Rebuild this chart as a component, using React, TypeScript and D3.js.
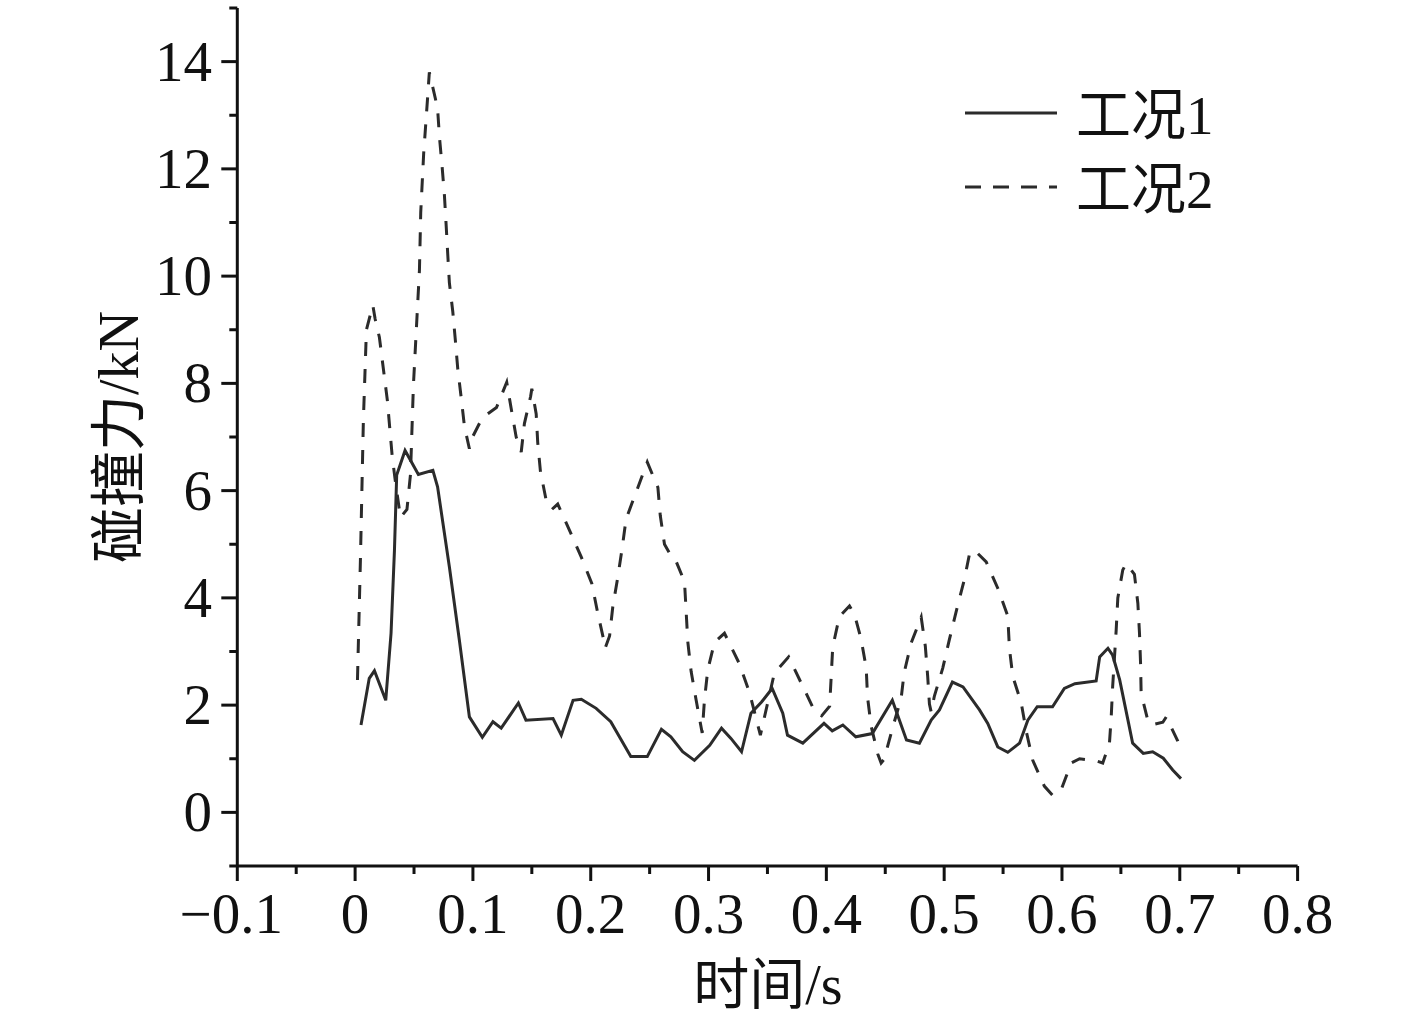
import React from "react";
import * as d3 from "d3";

const t1 = [0.005,0.012,0.0164,0.026,0.0305,0.0334,0.0353,0.0424,0.0537,0.066,0.070,0.080,0.0885,0.097,0.108,0.117,0.124,0.1386,0.145,0.168,0.175,0.185,0.192,0.2046,0.217,0.234,0.248,0.260,0.268,0.278,0.288,0.301,0.311,0.319,0.328,0.336,0.345,0.354,0.363,0.367,0.380,0.398,0.405,0.414,0.425,0.439,0.456,0.468,0.479,0.489,0.496,0.507,0.516,0.530,0.537,0.5455,0.554,0.564,0.571,0.579,0.592,0.602,0.611,0.629,0.632,0.639,0.643,0.649,0.656,0.660,0.669,0.677,0.686,0.694,0.701];
const f1 = [1.63,2.50,2.64,2.09,3.34,4.89,6.29,6.75,6.30,6.38,6.07,4.58,3.21,1.78,1.40,1.69,1.57,2.04,1.72,1.75,1.44,2.09,2.11,1.94,1.69,1.04,1.04,1.55,1.41,1.13,0.97,1.25,1.57,1.38,1.13,1.85,2.06,2.31,1.85,1.44,1.29,1.66,1.52,1.63,1.41,1.47,2.09,1.35,1.29,1.72,1.91,2.43,2.34,1.91,1.66,1.22,1.12,1.29,1.72,1.97,1.97,2.31,2.40,2.45,2.90,3.06,2.93,2.47,1.72,1.29,1.10,1.13,1.01,0.79,0.63];

const t2 = [0.002,0.0045,0.007,0.0096,0.015,0.017,0.0206,0.0274,0.0314,0.034,0.0385,0.044,0.047,0.0495,0.052,0.0546,0.0557,0.0582,0.0616,0.063,0.0645,0.070,0.0716,0.0739,0.0758,0.0772,0.0786,0.080,0.0829,0.0851,0.0871,0.090,0.0928,0.097,0.0985,0.108,0.120,0.1287,0.1324,0.1367,0.141,0.1437,0.149,0.150,0.1537,0.155,0.1573,0.162,0.167,0.172,0.182,0.192,0.2009,0.206,0.2116,0.2122,0.216,0.2187,0.223,0.2267,0.230,0.2385,0.247,0.248,0.257,0.259,0.2626,0.267,0.271,0.2796,0.281,0.2824,0.2852,0.2895,0.2946,0.2965,0.2993,0.305,0.3135,0.326,0.3347,0.344,0.3559,0.368,0.380,0.390,0.396,0.4028,0.4054,0.411,0.4196,0.424,0.4295,0.4338,0.435,0.438,0.4436,0.4465,0.449,0.4564,0.4635,0.466,0.472,0.4805,0.484,0.486,0.4875,0.489,0.4917,0.4988,0.5045,0.5107,0.517,0.5216,0.5257,0.5357,0.5455,0.554,0.5554,0.5582,0.5654,0.5696,0.5752,0.585,0.592,0.5993,0.6078,0.615,0.622,0.629,0.6346,0.6403,0.6418,0.643,0.646,0.6474,0.6516,0.6545,0.6615,0.6644,0.6658,0.6667,0.6672,0.6728,0.6757,0.6856,0.6885,0.6983,0.7012];
const f2 = [2.47,4.7,7.3,9.0,9.46,9.2,8.86,7.68,6.66,6.2,5.5,5.65,6.3,7.97,9.02,10.11,11.19,12.29,13.35,13.8,13.66,13.13,12.59,12.03,11.51,10.98,10.42,9.88,9.34,8.8,8.28,7.74,7.2,6.78,6.95,7.36,7.55,8.02,7.54,7.0,6.72,7.25,7.76,7.9,7.43,6.9,6.36,5.84,5.65,5.75,5.26,4.76,4.27,3.71,3.16,3.06,3.29,3.83,4.39,4.93,5.47,5.97,6.47,6.53,6.06,5.54,5.0,4.83,4.76,4.3,3.74,3.18,2.63,2.09,1.48,2.09,2.65,3.17,3.34,2.78,2.24,1.44,2.6,2.9,2.35,1.89,1.8,1.98,3.08,3.65,3.85,3.68,3.23,2.7,2.14,1.61,1.09,0.92,0.99,1.59,2.13,2.6,3.16,3.64,3.1,2.54,2.02,1.87,2.17,2.69,3.23,3.79,4.33,4.83,4.89,4.67,4.18,3.66,3.06,2.54,2.04,1.52,0.97,0.49,0.32,0.42,0.92,1.0,0.98,0.96,0.92,1.29,1.78,2.34,3.4,4.0,4.52,4.64,4.44,3.9,3.34,2.78,2.22,1.72,1.63,1.68,1.78,1.33,1.16];

const xTicks = [-0.1,0,0.1,0.2,0.3,0.4,0.5,0.6,0.7,0.8];
const xTickLabels = ["\u22120.1","0","0.1","0.2","0.3","0.4","0.5","0.6","0.7","0.8"];
const xMinor = [-0.05,0.05,0.15,0.25,0.35,0.45,0.55,0.65,0.75];
const yTicks = [0,2,4,6,8,10,12,14];
const yMinor = [-1,1,3,5,7,9,11,13,15];
const seriesNames = ["工况1","工况2"];
const xTitle = "时间/s";
const yTitle = "碰撞力/kN";

const FONT = "'Liberation Serif','Times New Roman','Noto Sans CJK SC',serif";
const INK = "#111";
const LINE = "#2b2b2b";

export default function App() {
  const x = d3.scaleLinear().domain([-0.1, 0.8]).range([237.3, 1297.6]);
  const y = d3.scaleLinear().domain([-1, 15]).range([866, 8]);
  const line = d3.line<[number, number]>().x(d => x(d[0])).y(d => y(d[1]));
  const s1 = t1.map((t, i) => [t, f1[i]] as [number, number]);
  const s2 = t2.map((t, i) => [t, f2[i]] as [number, number]);
  const x0 = x(-0.1), y0 = y(-1);
  return (
    <svg width={1417} height={1025} style={{ position: "absolute", left: 0, top: 0, background: "#fff" }} fontFamily={FONT}>
      <rect width={1417} height={1025} fill="#fff" />
      <line x1={x0} x2={x(0.8)} y1={y0} y2={y0} stroke={INK} strokeWidth={3} />
      <line x1={x0} x2={x0} y1={y(-1)} y2={y(15)} stroke={INK} strokeWidth={3} />
      {xTicks.map((v) => (
        <line key={"xt" + v} x1={x(v)} x2={x(v)} y1={y0} y2={y0 + 15} stroke={INK} strokeWidth={3} />
      ))}
      {xMinor.map((v) => (
        <line key={"xm" + v} x1={x(v)} x2={x(v)} y1={y0} y2={y0 + 8} stroke={INK} strokeWidth={3} />
      ))}
      {yTicks.map((v) => (
        <line key={"yt" + v} x1={x0 - 16} x2={x0} y1={y(v)} y2={y(v)} stroke={INK} strokeWidth={3} />
      ))}
      {yMinor.map((v) => (
        <line key={"ym" + v} x1={x0 - 8} x2={x0} y1={y(v)} y2={y(v)} stroke={INK} strokeWidth={3} />
      ))}
      {xTicks.map((v, i) => (
        <text key={"xl" + v} x={x(v) - (i === 0 ? 6 : 0)} y={933} fontSize={57} textAnchor="middle" fill={INK}>{xTickLabels[i]}</text>
      ))}
      {yTicks.map((v) => (
        <text key={"yl" + v} x={212} y={y(v) + 19} fontSize={57} textAnchor="end" fill={INK}>{v}</text>
      ))}
      <text x={768} y={1004} fontSize={56} textAnchor="middle" fill={INK}>{xTitle}</text>
      <text transform={`translate(138,437) rotate(-90)`} fontSize={56} textAnchor="middle" fill={INK}>{yTitle}</text>
      <path d={line(s2) || ""} fill="none" stroke={LINE} strokeWidth={3} strokeDasharray="14,13" />
      <path d={line(s1) || ""} fill="none" stroke={LINE} strokeWidth={3} />
      <line x1={965} x2={1057} y1={113} y2={113} stroke={LINE} strokeWidth={3} />
      <line x1={965} x2={1057} y1={187} y2={187} stroke={LINE} strokeWidth={3} strokeDasharray="16,12" />
      <text x={1076} y={134} fontSize={55} fill={INK}>{seriesNames[0]}</text>
      <text x={1076} y={208} fontSize={55} fill={INK}>{seriesNames[1]}</text>
    </svg>
  );
}
